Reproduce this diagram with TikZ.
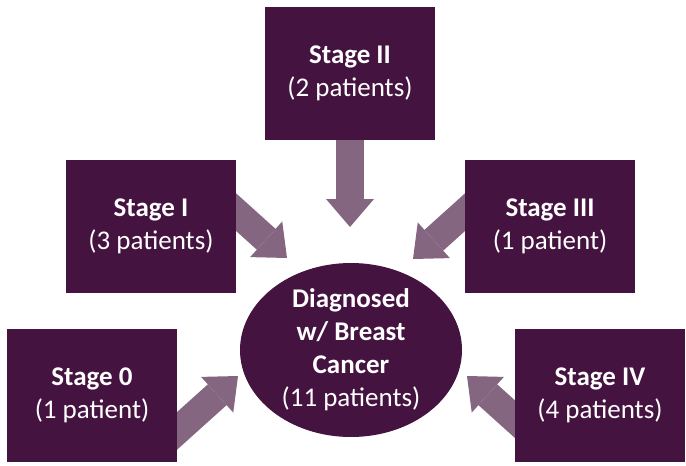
\documentclass[tikz,border=0pt]{standalone}
\usepackage{fontspec}
\setmainfont{Carlito}
\usetikzlibrary{calc, positioning, shapes.geometric, arrows.meta, backgrounds}
\usepackage{xcolor}
\definecolor{stagepurple}{RGB}{69, 19, 63}
\definecolor{arrowmauve}{RGB}{132, 102, 128}

\tikzset{
    stagebox/.style={fill=stagepurple, text=white, minimum width=170pt,
        minimum height=133pt, inner sep=0pt, align=center,
        font=\fontsize{27}{33}\selectfont},
    fatarrow/.style={arrowmauve, line width=28pt,
        -{Triangle[length=28pt, width=48pt, line width=0pt]}}
}

\begin{document}
\begin{tikzpicture}[x=1pt, y=-1pt]
    % Canvas - 686 x 466, y grows downwards
    \useasboundingbox (0,0) rectangle (686,466);

    % Centre ellipse
    \node[ellipse, fill=stagepurple, text=white, minimum width=222pt,
        minimum height=174pt, inner sep=0pt, align=center,
        font=\fontsize{27}{33}\selectfont] (dx) at (351,350)
        {\textbf{Diagnosed}\\\textbf{w/ Breast}\\\textbf{Cancer}\\(11 patients)};

    % Stage boxes
    \node[stagebox] (s2) at (350,73.5) {\textbf{Stage II}\\(2 patients)};
    \node[stagebox] (s1) at (151,226.5) {\textbf{Stage I}\\(3 patients)};
    \node[stagebox] (s3) at (550,226.5) {\textbf{Stage III}\\(1 patient)};
    \node[stagebox] (s0) at (92,395.5) {\textbf{Stage 0}\\(1 patient)};
    \node[stagebox] (s4) at (600,395.5) {\textbf{Stage IV}\\(4 patients)};

    % Arrow tips, just short of the ellipse
    \coordinate (t2) at (350,227);
    \coordinate (t1) at (287,258);
    \coordinate (t3) at (413,259);
    \coordinate (t0) at (238,376);
    \coordinate (t4) at (467,376);

    % Arrow tails, hidden inside the boxes
    \coordinate (f1) at ($(t1)+(222:100)$);
    \coordinate (f3) at ($(t3)+(-42:100)$);
    \coordinate (f0) at ($(t0)+(138:100)$);
    \coordinate (f4) at ($(t4)+(42:100)$);

    % Block arrows behind the boxes
    \begin{pgfonlayer}{background}
        \draw[fatarrow] (s2.center) -- (t2);
        \draw[fatarrow] (f1) -- (t1);
        \draw[fatarrow] (f3) -- (t3);
        \draw[fatarrow] (f0) -- (t0);
        \draw[fatarrow] (f4) -- (t4);
    \end{pgfonlayer}

\end{tikzpicture}
\end{document}
